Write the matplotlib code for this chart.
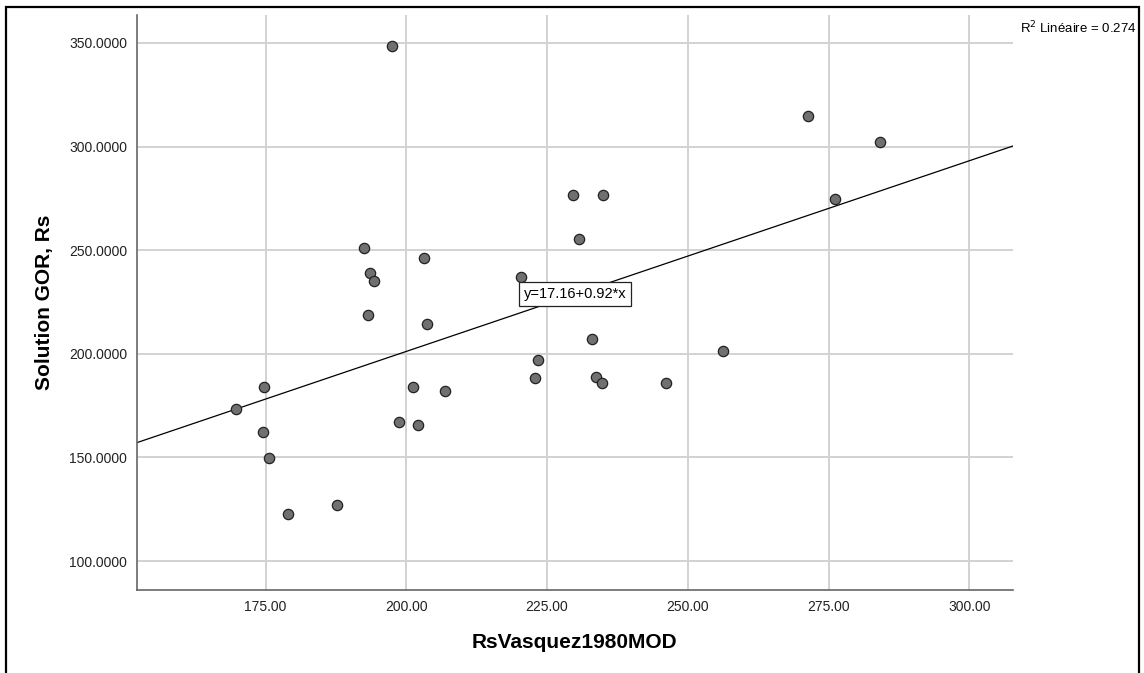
import matplotlib.pyplot as plt
import matplotlib.patches as mpatches
import numpy as np

plt.rcParams['font.family'] = ['Liberation Sans', 'DejaVu Sans']

# values
rs_vasquez = [169.7, 174.7, 174.5, 175.6, 178.9, 187.7, 197.4, 192.4, 193.5, 194.2,
              193.2, 203.1, 203.6, 201.2, 198.7, 202.0, 206.9, 220.4, 222.9, 223.4,
              229.6, 230.7, 235.0, 233.0, 233.6, 234.7, 246.2, 256.3, 271.4, 276.2,
              284.2]
gor_rs = [173.3, 184.2, 162.2, 149.6, 122.7, 126.9, 348.7, 251.1, 238.8, 235.1,
          218.7, 246.0, 214.2, 184.2, 167.0, 165.7, 182.1, 237.2, 188.4, 197.1,
          276.8, 255.6, 276.8, 207.2, 189.0, 185.8, 185.8, 201.4, 314.6, 274.7,
          302.4]
intercept, slope = 17.16, 0.92
r2 = 0.274

x_ticks = [175, 200, 225, 250, 275, 300]
y_ticks = [100, 150, 200, 250, 300, 350]

fig = plt.figure(figsize=(11.44, 6.73), dpi=100)
ax = fig.add_axes([0.1195, 0.1233, 0.7657, 0.8544])

ax.set_xlim(152.1, 307.7)
ax.set_ylim(86.0, 363.5)
ax.set_xticks(x_ticks)
ax.set_yticks(y_ticks)
ax.set_xticklabels([f'{v:.2f}' for v in x_ticks])
ax.set_yticklabels([f'{v:.4f}' for v in y_ticks])
ax.tick_params(length=0, labelsize=10, colors='#222222', pad=7)

ax.grid(True, color='#d2d2d2', linewidth=1.4)
ax.set_axisbelow(True)
for side in ['top', 'right']:
    ax.spines[side].set_visible(False)
for side in ['left', 'bottom']:
    ax.spines[side].set_color('#666666')
    ax.spines[side].set_linewidth(1.2)

# fit line
xs = np.array(ax.get_xlim())
ax.plot(xs, intercept + slope * xs, color='black', linewidth=0.9, zorder=2)

ax.scatter(rs_vasquez, gor_rs, s=55, color='#707070', edgecolors='#222222',
           linewidths=0.9, zorder=3)

ax.text(0.5003, 0.5148, f'y={intercept:.2f}+{slope:.2f}*x', transform=ax.transAxes,
        ha='center', va='center', fontsize=10.5, zorder=4,
        bbox=dict(boxstyle='square,pad=0.35', facecolor='white', edgecolor='#222222',
                  linewidth=0.9))

ax.set_xlabel('RsVasquez1980MOD', fontsize=15, fontweight='bold', labelpad=14)
ax.set_ylabel('Solution GOR, Rs', fontsize=15, fontweight='bold', labelpad=11)

fig.text(0.9935, 0.958, f'R$^2$ Linéaire = {r2:.3f}', ha='right', va='center',
         fontsize=9.5)

# outer frame of the exported chart
frame = mpatches.Rectangle((6 / 1144, -0.05), (1139 - 6) / 1144, 1 - 7 / 673 + 0.05,
                           transform=fig.transFigure, fill=False,
                           edgecolor='black', linewidth=1.6)
fig.patches.append(frame)

fig.savefig('out.png', dpi=100)
